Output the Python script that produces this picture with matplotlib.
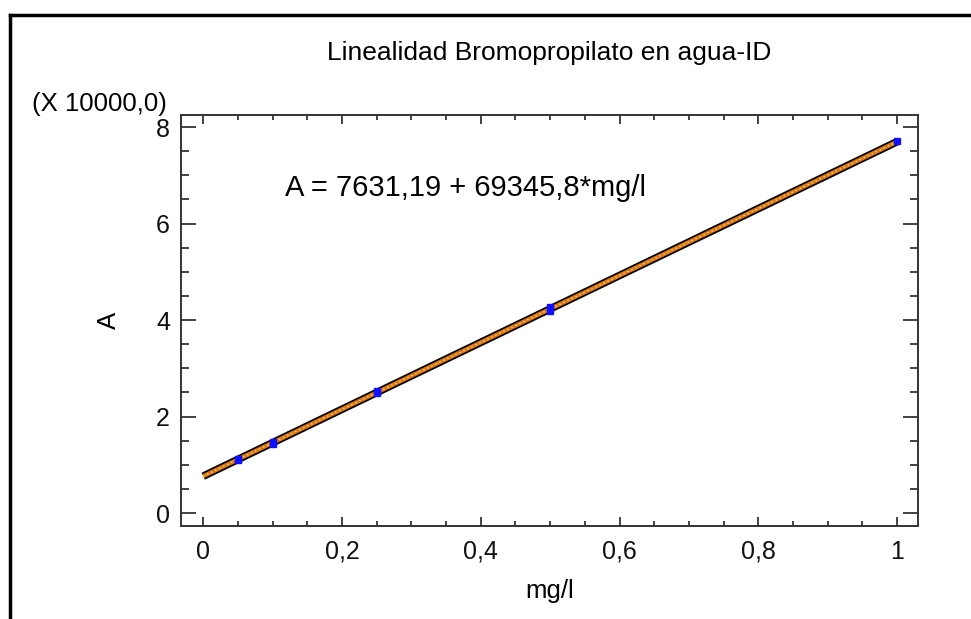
import numpy as np
import matplotlib
matplotlib.use('Agg')
import matplotlib.pyplot as plt
from matplotlib.lines import Line2D
from matplotlib.ticker import MultipleLocator, FuncFormatter

plt.rcParams['font.family'] = ['Liberation Sans', 'DejaVu Sans']

# ── data (A in units of 10000) ──
conc = [0.05, 0.05, 0.1, 0.1, 0.25, 0.25, 0.5, 0.5, 1.0]
area = [1.09, 1.12, 1.43, 1.47, 2.48, 2.52, 4.18, 4.27, 7.71]
intercept = 7631.19
slope = 69345.8
scale = 10000.0

title = 'Linealidad Bromopropilato en agua-ID'
equation = 'A = 7631,19 + 69345,8*mg/l'

fig = plt.figure(figsize=(9.71, 6.19), dpi=100)
ax = fig.add_axes([0.1864, 0.1502, 0.7590, 0.6640])

# fitted line with narrow bands
xf = np.linspace(0, 1, 200)
yf = (intercept + slope * xf) / scale
ax.plot(xf, yf, color='black', lw=5.5, solid_capstyle='butt', zorder=2)
ax.plot(xf, yf, color='#e07a10', lw=3.0, solid_capstyle='butt', zorder=3)
ax.plot(xf, yf, color='white', lw=0.8, ls=(0, (1, 3)), zorder=4)

ax.plot(conc, area, 's', color='#1010ff', ms=5, mec='#1010ff', zorder=5)

ax.set_xlim(-0.032, 1.030)
ax.set_ylim(-0.27, 8.25)

ax.xaxis.set_major_locator(MultipleLocator(0.2))
ax.xaxis.set_minor_locator(MultipleLocator(0.05))
ax.yaxis.set_major_locator(MultipleLocator(2))
ax.yaxis.set_minor_locator(MultipleLocator(0.5))

fmt = FuncFormatter(lambda v, p: ('%g' % round(v, 3)).replace('.', ','))
ax.xaxis.set_major_formatter(fmt)
ax.yaxis.set_major_formatter(fmt)

ax.tick_params(axis='both', which='both', direction='in', top=True, right=True,
               width=1.2, color='#222222', labelsize=18, labelcolor='#111111')
ax.tick_params(axis='y', which='major', length=11)
ax.tick_params(axis='y', which='minor', length=5.8)
ax.tick_params(axis='x', which='major', length=6.5)
ax.tick_params(axis='x', which='minor', length=3.6)
ax.tick_params(axis='x', pad=10)
ax.tick_params(axis='y', pad=8)

for s in ax.spines.values():
    s.set_color('#333333')
    s.set_linewidth(1.4)

ax.set_xlabel('mg/l', fontsize=18.5, labelpad=11)
ax.set_ylabel('A', fontsize=18.5, labelpad=25)

fig.text(0.566, 0.915, title, fontsize=19, ha='center', va='center')
fig.text(0.033, 0.832, '(X 10000,0)', fontsize=18.5, ha='left', va='center')
ax.text(0.118, 6.74, equation, fontsize=21, ha='left', va='center',
        transform=ax.transData)

# outer frame (left and top only)
fig.add_artist(Line2D([10 / 971, 10 / 971], [0, 1 - 15 / 619], color='black', lw=2.5,
                      transform=fig.transFigure))
fig.add_artist(Line2D([10 / 971, 1], [1 - 15 / 619, 1 - 15 / 619], color='black', lw=2.5,
                      transform=fig.transFigure))

fig.savefig('out.png', dpi=100)
